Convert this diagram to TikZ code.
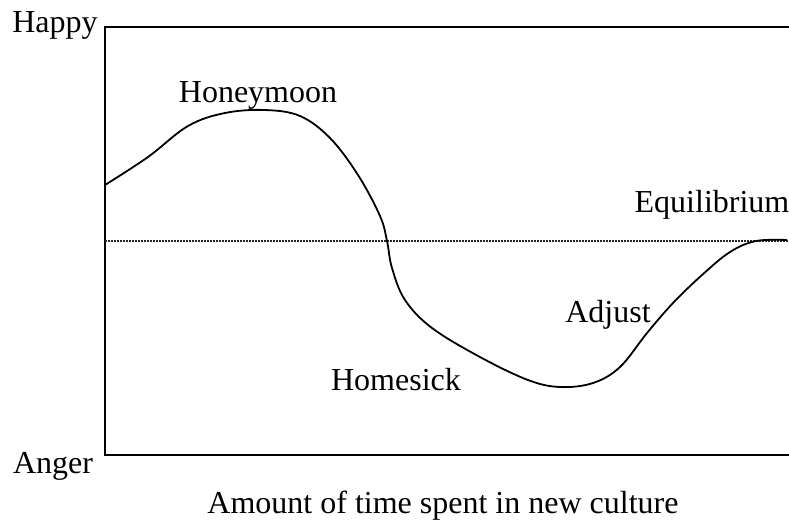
\documentclass[tikz,border=0pt]{standalone}
\usepackage{fontspec}
\setmainfont{Liberation Serif}
\begin{document}
\begin{tikzpicture}[x=1pt,y=-1pt,
  lbl/.style={anchor=base,inner sep=0pt,font=\fontsize{32}{38}\selectfont},
  frame/.style={line width=2pt},
  mood/.style={line width=1.8pt,line join=round},
  baseline line/.style={line width=1.1pt,dash pattern=on 1.5pt off 1.5pt,black!85}]
\useasboundingbox (0,0) rectangle (789,520);
% open frame: top, left and bottom sides
\coordinate (tr) at (789,27);
\coordinate (tl) at (105,27);
\coordinate (bl) at (105,455);
\coordinate (br) at (789,455);
\draw[frame] (tr) -- (tl) -- (bl) -- (br);
% neutral level
\coordinate (ml) at (105,241);
\coordinate (mr) at (789,241);
\draw[baseline line] (ml) -- (mr);
% mood curve over time
\draw[mood] plot[smooth,tension=0.6] coordinates {
  (105,185) (148,157) (188,126) (225,113) (265,110) (300,116) (330,138)
  (358,175) (380,216) (387,241) (392,268) (405,300) (432,328)
  (480,357) (528,380) (560,387) (593,383) (620,367)
  (647,333) (673,303) (702,275) (730,252) (756,241) (787,240)};
% labels
\node[lbl] (happy) at (55,32) {Happy};
\node[lbl] (anger) at (53,473) {Anger};
\node[lbl] (honey) at (258,102) {Honeymoon};
\node[lbl] (equi) at (712,212) {Equilibrium};
\node[lbl] (adjust) at (608,322) {Adjust};
\node[lbl] (home) at (396,390) {Homesick};
\node[lbl] (xaxis) at (443,513) {Amount of time spent in new culture};
\end{tikzpicture}
\end{document}
